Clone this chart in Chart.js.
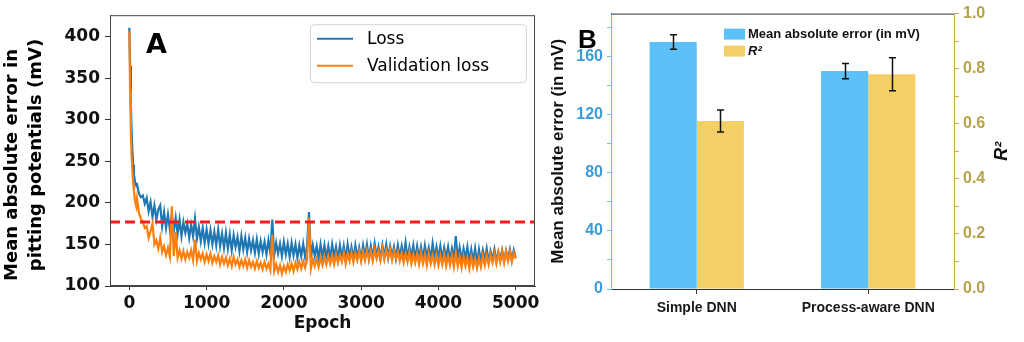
<!DOCTYPE html>
<html>
<head>
<meta charset="utf-8">
<script src="https://cdn.jsdelivr.net/npm/chart.js@4.4.1/dist/chart.umd.min.js"></script>
<style>
  html, body { margin: 0; padding: 0; background: #fff; }
  #wrap { position: relative; width: 1024px; height: 342px; overflow: hidden; }
  #lossChart { position: absolute; left: 0; top: 0; }
  #barChart { position: absolute; left: 545px; top: 0; }
</style>
</head>
<body>
<div id="wrap">
  <canvas id="lossChart" width="545" height="342"></canvas>
  <canvas id="barChart" width="479" height="342"></canvas>
</div>
<script>
// ---- panel A: training history (dense at the start, then every 25 epochs)
var epochs = [
  0, 10, 20, 30, 40, 50, 60, 75, 90, 100, 125, 150, 175, 200,
  225, 250, 275, 300, 325, 350, 375, 400, 425, 450, 475, 500,
  525, 550, 575, 600, 625, 650, 675, 700, 725, 750, 775, 800, 825, 850, 875, 900, 925, 950, 975, 1000,
  1025, 1050, 1075, 1100, 1125, 1150, 1175, 1200, 1225, 1250, 1275, 1300, 1325, 1350, 1375, 1400, 1425, 1450, 1475, 1500,
  1525, 1550, 1575, 1600, 1625, 1650, 1675, 1700, 1725, 1750, 1775, 1800, 1825, 1850, 1875, 1900, 1925, 1950, 1975, 2000,
  2025, 2050, 2075, 2100, 2125, 2150, 2175, 2200, 2225, 2250, 2275, 2300, 2325, 2350, 2375, 2400, 2425, 2450, 2475, 2500,
  2525, 2550, 2575, 2600, 2625, 2650, 2675, 2700, 2725, 2750, 2775, 2800, 2825, 2850, 2875, 2900, 2925, 2950, 2975, 3000,
  3025, 3050, 3075, 3100, 3125, 3150, 3175, 3200, 3225, 3250, 3275, 3300, 3325, 3350, 3375, 3400, 3425, 3450, 3475, 3500,
  3525, 3550, 3575, 3600, 3625, 3650, 3675, 3700, 3725, 3750, 3775, 3800, 3825, 3850, 3875, 3900, 3925, 3950, 3975, 4000,
  4025, 4050, 4075, 4100, 4125, 4150, 4175, 4200, 4225, 4250, 4275, 4300, 4325, 4350, 4375, 4400, 4425, 4450, 4475, 4500,
  4525, 4550, 4575, 4600, 4625, 4650, 4675, 4700, 4725, 4750, 4775, 4800, 4825, 4850, 4875, 4900, 4925, 4950, 4975, 5000
];
var lossValues = [
  411, 365, 318, 286, 263, 246, 234, 225, 221, 222, 211, 207, 209, 199,
  206, 190, 201, 183, 197, 180, 192, 197, 172, 189, 170, 186,
  168, 185, 166, 182, 163, 180, 160, 177, 164, 175, 158, 174, 160, 181, 157, 171, 154, 170, 152, 168,
  151, 167, 150, 165, 149, 168, 148, 163, 146, 164, 145, 162, 143, 161, 147, 159, 142, 160, 144, 158,
  141, 157, 143, 155, 140, 156, 139, 154, 141, 153, 138, 155, 140, 180, 137, 152, 139, 151, 136, 153,
  138, 151, 135, 152, 137, 150, 134, 149, 136, 151, 135, 148, 189, 134, 149, 136, 148, 133, 150, 135,
  149, 134, 148, 133, 150, 135, 147, 132, 149, 134, 148, 131, 150, 135, 147, 133, 149, 134, 146, 132,
  149, 135, 150, 133, 148, 134, 151, 136, 147, 133, 149, 135, 150, 134, 148, 136, 147, 133, 149, 135,
  148, 134, 152, 133, 147, 135, 149, 132, 148, 134, 147, 133, 149, 135, 146, 132, 151, 134, 147, 133,
  148, 132, 146, 134, 147, 131, 145, 133, 160, 132, 146, 131, 145, 133, 147, 130, 144, 129, 145, 126,
  144, 130, 143, 131, 145, 129, 142, 132, 144, 130, 141, 131, 143, 130, 142, 133, 144, 131, 143, 134
];
var valLossValues = [
  407, 335, 285, 255, 238, 224, 214, 202, 196, 205, 188, 181, 177, 170,
  172, 158, 166, 175, 150, 155, 145, 158, 141, 148, 137, 146,
  135, 196, 136, 165, 134, 143, 133, 142, 132, 141, 134, 143, 131, 156, 130, 140, 132, 139, 129, 138,
  130, 139, 128, 136, 129, 137, 126, 135, 127, 134, 125, 133, 124, 135, 126, 132, 123, 131, 124, 132,
  122, 131, 123, 129, 121, 130, 122, 128, 120, 129, 121, 127, 119, 162, 118, 126, 117, 125, 115, 124,
  117, 126, 119, 127, 118, 128, 120, 129, 121, 130, 122, 131, 182, 121, 132, 124, 133, 123, 134, 125,
  135, 126, 136, 127, 137, 126, 138, 128, 137, 129, 140, 127, 139, 130, 141, 129, 140, 131, 142, 130,
  141, 131, 143, 132, 142, 130, 144, 133, 142, 131, 145, 132, 143, 134, 144, 131, 142, 133, 141, 130,
  140, 128, 139, 129, 141, 127, 138, 128, 139, 126, 140, 127, 138, 125, 139, 127, 137, 126, 138, 125,
  137, 126, 138, 124, 136, 125, 137, 123, 140, 124, 135, 122, 136, 124, 134, 121, 135, 123, 133, 122,
  134, 123, 136, 125, 137, 126, 138, 128, 139, 127, 140, 129, 141, 128, 142, 130, 141, 129, 140, 133
];
var thresholdValue = 177;
var epochTicks = [0, 1000, 2000, 3000, 4000, 5000];
var lossTicks = [100, 150, 200, 250, 300, 350, 400];
var epochMin = -250, epochMax = 5250;
var lossMin = 100, lossMax = 426;

// ---- panel B: model comparison
var models = ['Simple DNN', 'Process-aware DNN'];
var maeValues = [170, 150];
var maeErrors = [5, 5.2];
var r2Values = [0.61, 0.78];
var r2Errors = [0.04, 0.06];
var maeTicks = [0, 20, 40, 60, 80, 100, 120, 140, 160, 180];
var r2Ticks = [0, 0.1, 0.2, 0.3, 0.4, 0.5, 0.6, 0.7, 0.8, 0.9, 1.0];
var maeMax = 189.6;

var fontA = '"DejaVu Sans", sans-serif';
var fontB = '"Liberation Sans", Arial, sans-serif';

function toPoints(xs, ys) {
  return xs.map(function(x, i) { return { x: x, y: ys[i] }; });
}

var panelAPlugin = {
  id: 'panelA',
  afterDraw: function(chart) {
    var ctx = chart.ctx;
    var area = chart.chartArea;
    ctx.save();

    // full frame round the plot
    ctx.strokeStyle = '#444';
    ctx.lineWidth = 1;
    ctx.strokeRect(area.left + 0.5, area.top + 0.5, area.right - area.left - 1, area.bottom - area.top - 1);

    // panel letter
    ctx.fillStyle = '#000';
    ctx.font = 'bold 27px ' + fontA;
    ctx.textAlign = 'left';
    ctx.textBaseline = 'alphabetic';
    ctx.fillText('A', area.left + 36, area.top + 38);

    // legend box
    var bx = area.left + 200, by = area.top + 9.5, bw = 216, bh = 58;
    ctx.beginPath();
    ctx.roundRect(bx + 0.5, by, bw, bh, 4);
    ctx.fillStyle = 'rgba(255,255,255,0.85)';
    ctx.fill();
    ctx.strokeStyle = '#d4d4d4';
    ctx.stroke();

    var items = chart.data.datasets.filter(function(d) { return d.label; });
    ctx.font = '17px ' + fontA;
    ctx.textBaseline = 'middle';
    items.forEach(function(d, i) {
      var y = by + 14 + i * 27;
      ctx.strokeStyle = d.borderColor;
      ctx.lineWidth = 2;
      ctx.beginPath();
      ctx.moveTo(bx + 7, y);
      ctx.lineTo(bx + 43, y);
      ctx.stroke();
      ctx.fillStyle = '#000';
      ctx.fillText(d.label, bx + 57, y + 1);
    });

    // two-line y axis title
    ctx.font = 'bold 18px ' + fontA;
    ctx.textAlign = 'center';
    ctx.fillStyle = '#000';
    [['Mean absolute error in', 12, 165], ['pitting potentials (mV)', 36, 155]].forEach(function(t) {
      ctx.save();
      ctx.translate(t[1], t[2]);
      ctx.rotate(-Math.PI / 2);
      ctx.fillText(t[0], 0, 0);
      ctx.restore();
    });
    ctx.restore();
  }
};

new Chart(document.getElementById('lossChart'), {
  type: 'line',
  data: {
    datasets: [{
      label: null,
      data: [{ x: epochMin, y: thresholdValue }, { x: epochMax, y: thresholdValue }],
      borderColor: '#ff1a1a',
      borderWidth: 3,
      borderDash: [10, 5],
      pointRadius: 0,
      order: 0
    }, {
      label: 'Loss',
      data: toPoints(epochs, lossValues),
      borderColor: '#1f77b4',
      borderWidth: 2.2,
      pointRadius: 0,
      order: 2
    }, {
      label: 'Validation loss',
      data: toPoints(epochs, valLossValues),
      borderColor: '#ff7f0e',
      borderWidth: 2.2,
      pointRadius: 0,
      order: 1
    }]
  },
  options: {
    responsive: false,
    animation: false,
    layout: { padding: { left: 0, top: 10, right: 10, bottom: 0 } },
    plugins: { legend: { display: false }, tooltip: { enabled: false } },
    scales: {
      x: {
        type: 'linear',
        min: epochMin,
        max: epochMax,
        afterBuildTicks: function(s) { s.ticks = epochTicks.map(function(v) { return { value: v }; }); },
        afterFit: function(s) { s.height = 56; },
        ticks: {
          callback: function(v) { return String(v); },
          font: { family: fontA, size: 17, weight: 'bold' },
          color: '#111',
          padding: 3,
          maxRotation: 0
        },
        grid: { drawOnChartArea: false, tickLength: 4, tickColor: '#333' },
        border: { color: '#444' },
        title: {
          display: true,
          text: 'Epoch',
          font: { family: fontA, size: 17, weight: 'bold' },
          color: '#111',
          padding: { top: 0, bottom: 8 }
        }
      },
      y: {
        min: lossMin,
        max: lossMax,
        afterBuildTicks: function(s) { s.ticks = lossTicks.map(function(v) { return { value: v }; }); },
        afterFit: function(s) { s.width = 110; },
        ticks: {
          callback: function(v) { return String(v); },
          font: { family: fontA, size: 17, weight: 'bold' },
          color: '#111',
          padding: 5
        },
        grid: { drawOnChartArea: false, tickLength: 5, tickColor: '#333' },
        border: { color: '#444' }
      }
    }
  },
  plugins: [panelAPlugin]
});

var panelBPlugin = {
  id: 'panelB',
  afterDatasetsDraw: function(chart) {
    var ctx = chart.ctx;
    var errs = [maeErrors, r2Errors];
    ctx.save();
    ctx.strokeStyle = '#111';
    ctx.lineWidth = 1.5;
    chart.data.datasets.forEach(function(ds, i) {
      var scale = chart.scales[ds.yAxisID];
      chart.getDatasetMeta(i).data.forEach(function(bar, j) {
        var v = ds.data[j], e = errs[i][j];
        var yHi = scale.getPixelForValue(v + e);
        var yLo = scale.getPixelForValue(v - e);
        var x = Math.round(bar.x) + 0.5;
        ctx.beginPath();
        ctx.moveTo(x, yHi); ctx.lineTo(x, yLo);
        ctx.moveTo(x - 3.5, yHi); ctx.lineTo(x + 3.5, yHi);
        ctx.moveTo(x - 3.5, yLo); ctx.lineTo(x + 3.5, yLo);
        ctx.stroke();
      });
    });
    ctx.restore();
  },
  afterDraw: function(chart) {
    var ctx = chart.ctx;
    var area = chart.chartArea;
    ctx.save();

    // top edge of the frame
    ctx.strokeStyle = '#333';
    ctx.lineWidth = 1;
    ctx.beginPath();
    ctx.moveTo(area.left, area.top + 0.5);
    ctx.lineTo(area.right, area.top + 0.5);
    ctx.stroke();

    // panel letter
    ctx.fillStyle = '#000';
    ctx.font = 'bold 26px ' + fontB;
    ctx.textBaseline = 'alphabetic';
    ctx.textAlign = 'left';
    ctx.fillText('B', area.left - 33, area.top + 34);

    // legend
    var lx = area.left + 113;
    chart.data.datasets.forEach(function(ds, i) {
      var y = area.top + 15 + i * 17;
      ctx.fillStyle = ds.backgroundColor;
      ctx.fillRect(lx, y, 21, 11);
      ctx.fillStyle = '#111';
      ctx.font = (i === 1 ? 'italic ' : '') + 'bold 13px ' + fontB;
      ctx.textBaseline = 'middle';
      ctx.fillText(ds.label, lx + 24, y + 5.5);
    });

    // right axis title, read bottom to top
    ctx.save();
    ctx.translate(area.right + 48, (area.top + area.bottom) / 2);
    ctx.rotate(-Math.PI / 2);
    ctx.font = 'italic bold 18px ' + fontB;
    ctx.textAlign = 'center';
    ctx.textBaseline = 'middle';
    ctx.fillStyle = '#111';
    ctx.fillText('R²', 0, 0);
    ctx.restore();

    ctx.restore();
  }
};

new Chart(document.getElementById('barChart'), {
  type: 'bar',
  data: {
    labels: models,
    datasets: [{
      label: 'Mean absolute error (in mV)',
      data: maeValues,
      yAxisID: 'yMae',
      backgroundColor: '#5cc1f9'
    }, {
      label: 'R²',
      data: r2Values,
      yAxisID: 'yR2',
      backgroundColor: '#f3cf65'
    }]
  },
  options: {
    responsive: false,
    animation: false,
    categoryPercentage: 0.55,
    barPercentage: 1.0,
    layout: { padding: { left: 0, top: 13, right: 0, bottom: 0 } },
    plugins: { legend: { display: false }, tooltip: { enabled: false } },
    scales: {
      x: {
        afterFit: function(s) { s.height = 53; },
        ticks: {
          font: { family: fontB, size: 14, weight: 'bold' },
          color: '#1a1a1a',
          padding: 6
        },
        grid: { drawOnChartArea: false, offset: false, tickLength: 5, tickColor: '#333' },
        border: { color: '#333' }
      },
      yMae: {
        position: 'left',
        min: 0,
        max: maeMax,
        afterBuildTicks: function(s) { s.ticks = maeTicks.map(function(v) { return { value: v }; }); },
        afterFit: function(s) { s.width = 66; },
        ticks: {
          callback: function(v) { return v % 40 === 0 ? String(v) : ''; },
          font: { family: fontB, size: 16, weight: 'bold' },
          color: '#3d9cd6',
          padding: 4
        },
        grid: { drawOnChartArea: false, tickLength: 4, tickColor: '#6cc3ef' },
        border: { color: '#6cc3ef' },
        title: {
          display: true,
          text: 'Mean absolute error (in mV)',
          font: { family: fontB, size: 17, weight: 'bold' },
          color: '#111',
          padding: { top: 3, bottom: 0 }
        }
      },
      yR2: {
        position: 'right',
        min: 0,
        max: 1,
        afterBuildTicks: function(s) { s.ticks = r2Ticks.map(function(v) { return { value: v }; }); },
        afterFit: function(s) { s.width = 70; },
        ticks: {
          callback: function(v) { return Math.round(v * 10) % 2 === 0 ? v.toFixed(1) : ''; },
          font: { family: fontB, size: 16, weight: 'bold' },
          color: '#b8a14a',
          padding: 4
        },
        grid: { drawOnChartArea: false, tickLength: 5, tickColor: '#c5ae5a' },
        border: { color: '#c5ae5a' }
      }
    }
  },
  plugins: [panelBPlugin]
});
</script>
</body>
</html>
